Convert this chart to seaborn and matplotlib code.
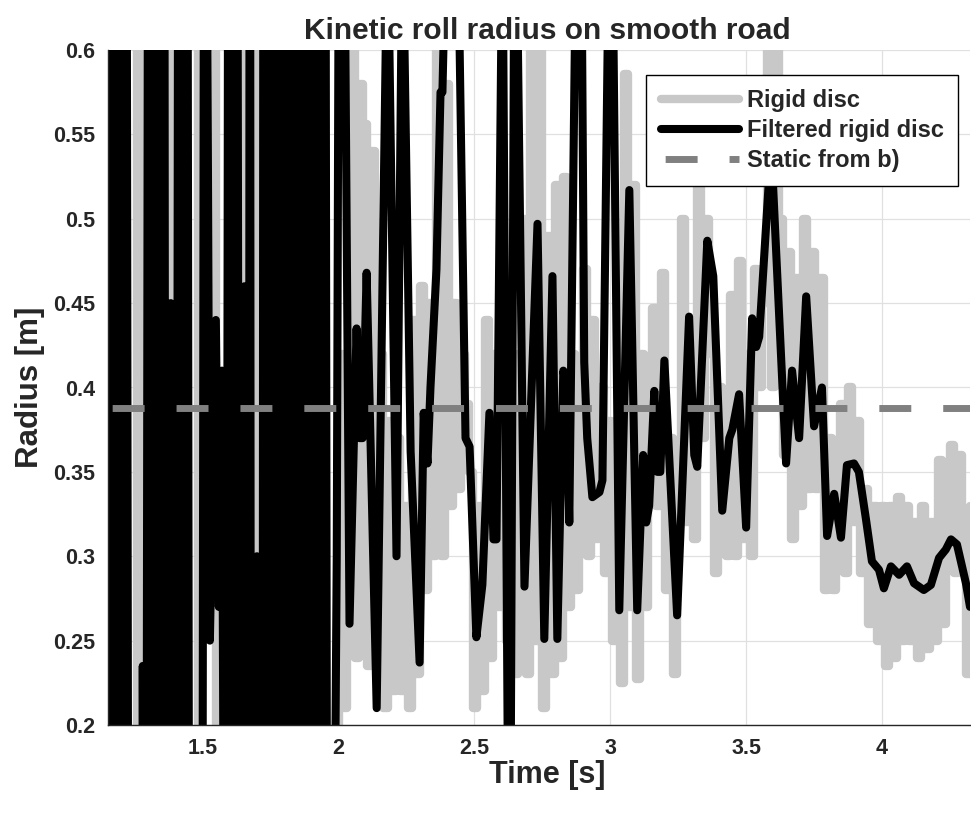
import numpy as np
import matplotlib
matplotlib.use("Agg")
import matplotlib.pyplot as plt
import seaborn as sns

# --- rigid disc (grey), before 2 s: only the stripes that show between the filtered trace
grey_time_left = [1.151, 1.257, 1.276, 1.382, 1.482, 1.548, 1.658, 1.702]
grey_radius_left = [0.68, 0.12, 0.68, 0.12, 0.68, 0.12, 0.68, 0.12]

# rigid disc from t = 2.0 s, one sample every 0.015 s
grey_time_right = np.round(2.0 + 0.015 * np.arange(156), 3)
grey_radius_right = [
    0.42, 0.21, 0.33, 0.62, 0.24, 0.58, 0.556, 0.235, 0.54, 0.25,
    0.42, 0.21, 0.38, 0.22, 0.37, 0.22, 0.33, 0.21, 0.44, 0.23,
    0.46, 0.28, 0.45, 0.30, 0.62, 0.30, 0.58, 0.33, 0.45, 0.34,
    0.42, 0.39, 0.35, 0.21, 0.33, 0.22, 0.44, 0.24, 0.42, 0.27,
    0.45, 0.25, 0.40, 0.23, 0.42, 0.50, 0.23, 0.62, 0.25, 0.60,
    0.21, 0.49, 0.23, 0.52, 0.24, 0.525, 0.27, 0.42, 0.28, 0.40,
    0.47, 0.30, 0.44, 0.31, 0.40, 0.29, 0.38, 0.25, 0.34, 0.225,
    0.586, 0.27, 0.52, 0.227, 0.42, 0.27, 0.38, 0.447, 0.33, 0.468,
    0.28, 0.37, 0.23, 0.33, 0.50, 0.32, 0.44, 0.31, 0.525, 0.37,
    0.50, 0.42, 0.29, 0.40, 0.39, 0.30, 0.455, 0.30, 0.475, 0.31,
    0.42, 0.30, 0.47, 0.40, 0.45, 0.62, 0.40, 0.60, 0.50, 0.36,
    0.48, 0.31, 0.465, 0.33, 0.50, 0.34, 0.48, 0.34, 0.465, 0.28,
    0.37, 0.28, 0.36, 0.39, 0.29, 0.40, 0.32, 0.38, 0.29, 0.34,
    0.26, 0.33, 0.25, 0.33, 0.235, 0.33, 0.24, 0.335, 0.25, 0.33,
    0.25, 0.32, 0.24, 0.33, 0.245, 0.32, 0.25, 0.357, 0.26, 0.35,
    0.366, 0.29, 0.36, 0.30, 0.23, 0.33,
]

# --- filtered rigid disc (black)
filt_time = [
    1.151, 1.158, 1.173, 1.188, 1.202, 1.217, 1.228, 1.272, 1.279, 1.290,
    1.301, 1.316, 1.331, 1.346, 1.357, 1.364, 1.382, 1.401, 1.412, 1.426,
    1.441, 1.452, 1.496, 1.507, 1.526, 1.548, 1.559, 1.570, 1.585, 1.596,
    1.610, 1.625, 1.636, 1.653, 1.669, 1.673, 1.678, 1.699, 1.719, 1.724,
    1.739, 1.754, 1.768, 1.783, 1.798, 1.813, 1.827, 1.842, 1.857, 1.871,
    1.886, 1.901, 1.915, 1.930, 1.941, 1.949, 1.960, 1.971, 1.993,
    2.007, 2.040, 2.066, 2.077, 2.088, 2.103, 2.140, 2.180, 2.213, 2.235,
    2.265, 2.298, 2.313, 2.327, 2.338, 2.360, 2.375, 2.382, 2.397, 2.438,
    2.467, 2.482, 2.507, 2.529, 2.555, 2.570, 2.581, 2.603, 2.625, 2.632,
    2.647, 2.654, 2.684, 2.732, 2.757, 2.787, 2.805, 2.827, 2.838, 2.849,
    2.875, 2.893, 2.904, 2.915, 2.934, 2.960, 2.971, 2.996, 3.007, 3.033,
    3.070, 3.099, 3.121, 3.132, 3.143, 3.162, 3.173, 3.184, 3.199, 3.246,
    3.290, 3.309, 3.320, 3.357, 3.379, 3.412, 3.438, 3.449, 3.474, 3.500,
    3.522, 3.537, 3.548, 3.585, 3.599, 3.647, 3.669, 3.695, 3.721, 3.750,
    3.779, 3.798, 3.824, 3.849, 3.871, 3.897, 3.915, 3.941, 3.963, 3.989,
    4.007, 4.033, 4.063, 4.092, 4.118, 4.154, 4.180, 4.210, 4.235, 4.254,
    4.276, 4.309, 4.324,
]
filt_radius = [
    0.33, 1.0, -0.2, 1.0, -0.2, 1.0, -0.2, -0.2, 0.235, -0.2,
    1.0, -0.2, 1.0, -0.2, 1.0, -0.2, 0.45, -0.2, 1.0, -0.2,
    1.0, -0.2, -0.2, 1.0, 0.25, 0.44, 0.27, 0.41, -0.2, 1.0,
    -0.2, 1.0, -0.2, 0.46, -0.2, 1.0, -0.2, 0.30, -0.2, 1.0,
    -0.2, 1.0, -0.2, 1.0, -0.2, 1.0, -0.2, 1.0, -0.2, 1.0,
    -0.2, 1.0, -0.2, 1.0, -0.2, 1.0, -0.2, -0.2, 0.30,
    1.0, 0.26, 0.435, 0.37, 0.37, 0.468, 0.21, 0.68, 0.30, 0.68,
    0.362, 0.237, 0.385, 0.355, 0.40, 0.47, 0.575, 0.575, 0.68, 0.68,
    0.37, 0.365, 0.252, 0.283, 0.385, 0.31, 0.31, 0.68, 0.12, 0.12,
    0.68, 0.68, 0.282, 0.497, 0.251, 0.466, 0.251, 0.41, 0.40, 0.32,
    0.68, 0.68, 0.415, 0.37, 0.335, 0.338, 0.345, 0.68, 0.68, 0.268,
    0.517, 0.268, 0.36, 0.32, 0.33, 0.398, 0.35, 0.35, 0.416, 0.265,
    0.442, 0.36, 0.353, 0.487, 0.466, 0.327, 0.37, 0.375, 0.396, 0.317,
    0.441, 0.424, 0.43, 0.526, 0.52, 0.355, 0.41, 0.37, 0.454, 0.377,
    0.40, 0.312, 0.337, 0.311, 0.354, 0.355, 0.35, 0.322, 0.297, 0.292,
    0.281, 0.294, 0.289, 0.294, 0.284, 0.28, 0.283, 0.299, 0.304, 0.31,
    0.307, 0.284, 0.27,
]

# --- static radius from b)
static_time = [1.151, 4.324]
static_radius = [0.388, 0.388]

x_ticks = [1.5, 2, 2.5, 3, 3.5, 4]
x_tick_labels = ["1.5", "2", "2.5", "3", "3.5", "4"]
y_ticks = [0.2, 0.25, 0.3, 0.35, 0.4, 0.45, 0.5, 0.55, 0.6]
y_tick_labels = ["0.2", "0.25", "0.3", "0.35", "0.4", "0.45", "0.5", "0.55", "0.6"]

sns.set_style("white")
plt.rcParams["font.family"] = ["Liberation Sans", "DejaVu Sans"]
plt.rcParams["font.weight"] = "bold"

fig = plt.figure(figsize=(9.71, 8.13), dpi=100)
ax = fig.add_axes([108 / 971, 88 / 813, 862 / 971, 675 / 813])
ax.set_axisbelow(True)
ax.grid(True, color="#e0e0e0", lw=0.9)

grey_time = np.concatenate([grey_time_left, grey_time_right])
grey_radius = np.concatenate([grey_radius_left, grey_radius_right])

sns.lineplot(x=grey_time, y=grey_radius, ax=ax, color="#c8c8c8", linewidth=6,
             drawstyle="steps-post", label="Rigid disc", sort=False, estimator=None)
sns.lineplot(x=filt_time, y=filt_radius, ax=ax, color="black", linewidth=5.8,
             label="Filtered rigid disc", sort=False, estimator=None)
sns.lineplot(x=static_time, y=static_radius, ax=ax, color="#808080", linewidth=5,
             linestyle=(8.6, (4.6, 4.6)), label="Static from b)", sort=False,
             estimator=None)

ax.set_xlim(1.151, 4.324)
ax.set_ylim(0.2, 0.6)
ax.set_xticks(x_ticks)
ax.set_xticklabels(x_tick_labels)
ax.set_yticks(y_ticks)
ax.set_yticklabels(y_tick_labels)
ax.tick_params(direction="in", length=6, width=1, labelsize=15.5, pad=9,
               colors="#262626")
for lab in ax.get_xticklabels() + ax.get_yticklabels():
    lab.set_fontweight("bold")

for side in ["top", "right"]:
    ax.spines[side].set_visible(False)
for side in ["left", "bottom"]:
    ax.spines[side].set_color("#262626")
    ax.spines[side].set_linewidth(1)

ax.set_title("Kinetic roll radius on smooth road", fontsize=21.5, fontweight="bold",
             pad=8, x=0.51)
ax.set_xlabel("Time [s]", fontsize=22, fontweight="bold", labelpad=1)
ax.xaxis.label.set_x(0.51)
ax.set_ylabel("Radius [m]", fontsize=22.5, fontweight="bold", labelpad=6)

leg = ax.legend(loc="upper right", bbox_to_anchor=(0.986, 0.963), frameon=True,
                fancybox=False, edgecolor="black", framealpha=1,
                prop={"weight": "bold", "size": 17}, handlelength=3.3,
                handletextpad=0.35, labelspacing=0.3, borderpad=0.6,
                borderaxespad=0)
leg.get_frame().set_linewidth(1)

fig.savefig("out.png", dpi=100)
